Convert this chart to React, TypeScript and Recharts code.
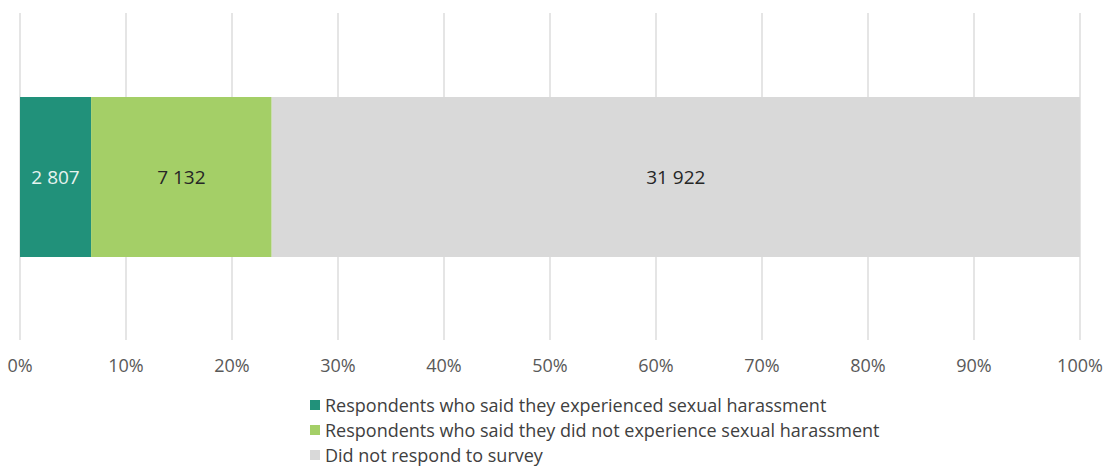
import React from 'react';
import { BarChart, Bar, XAxis, YAxis, CartesianGrid, LabelList, Legend } from 'recharts';

const categories = ['Survey'];
const experienced = [2807];
const notExperienced = [7132];
const noResponse = [31922];
const tickValues = [0, 0.1, 0.2, 0.3, 0.4, 0.5, 0.6, 0.7, 0.8, 0.9, 1];
const seriesNames = [
  'Respondents who said they experienced sexual harassment',
  'Respondents who said they did not experience sexual harassment',
  'Did not respond to survey',
];
const seriesColors = ['#21917a', '#a4cf67', '#d9d9d9'];

const data = categories.map((c, i) => ({
  name: c,
  experienced: experienced[i],
  notExperienced: notExperienced[i],
  noResponse: noResponse[i],
}));

const fmt = (v: any) => String(v).replace(/\B(?=(\d{3})+(?!\d))/g, ' ');
const FONT = '"Open Sans", "Noto Sans", sans-serif';

const LegendContent = () => (
  <div style={{ fontFamily: FONT, fontSize: 18, color: '#404040' }}>
    {seriesNames.map((n, i) => (
      <div key={n} style={{ display: 'flex', alignItems: 'center', height: 25, whiteSpace: 'nowrap' }}>
        <span style={{ width: 10, height: 10, background: seriesColors[i], display: 'inline-block', marginRight: 5 }} />
        <span>{n}</span>
      </div>
    ))}
  </div>
);

export default function App() {
  return (
    <div style={{ position: 'absolute', left: 0, top: 0, width: 1107, height: 467, background: '#fff' }}>
      <BarChart
        width={1107}
        height={467}
        data={data}
        layout="vertical"
        stackOffset="expand"
        margin={{ top: 13, right: 27, bottom: 87, left: 20 }}
      >
        <CartesianGrid horizontal={false} stroke="#dcdcdc" strokeWidth={1.5} />
        <XAxis
          type="number"
          domain={[0, 1]}
          ticks={tickValues}
          tickFormatter={(v: number) => `${Math.round(v * 100)}%`}
          axisLine={false}
          tickLine={false}
          tickSize={0}
          tickMargin={19}
          height={40}
          interval={0}
          tick={{ fill: '#595959', fontSize: 18, fontFamily: FONT }}
        />
        <YAxis type="category" dataKey="name" hide />
        <Legend
          layout="vertical"
          align="center"
          verticalAlign="middle"
          content={<LegendContent />}
          wrapperStyle={{ left: 310, top: 392, width: 760, height: 75 }}
        />
        <Bar dataKey="experienced" stackId="a" fill={seriesColors[0]} barSize={160} isAnimationActive={false}>
          <LabelList dataKey="experienced" position="center" formatter={fmt} fill="#e6f3ef" fontSize={19} fontFamily={FONT} />
        </Bar>
        <Bar dataKey="notExperienced" stackId="a" fill={seriesColors[1]} barSize={160} isAnimationActive={false}>
          <LabelList dataKey="notExperienced" position="center" formatter={fmt} fill="#262626" fontSize={19} fontFamily={FONT} />
        </Bar>
        <Bar dataKey="noResponse" stackId="a" fill={seriesColors[2]} barSize={160} isAnimationActive={false}>
          <LabelList dataKey="noResponse" position="center" formatter={fmt} fill="#262626" fontSize={19} fontFamily={FONT} />
        </Bar>
      </BarChart>
    </div>
  );
}
